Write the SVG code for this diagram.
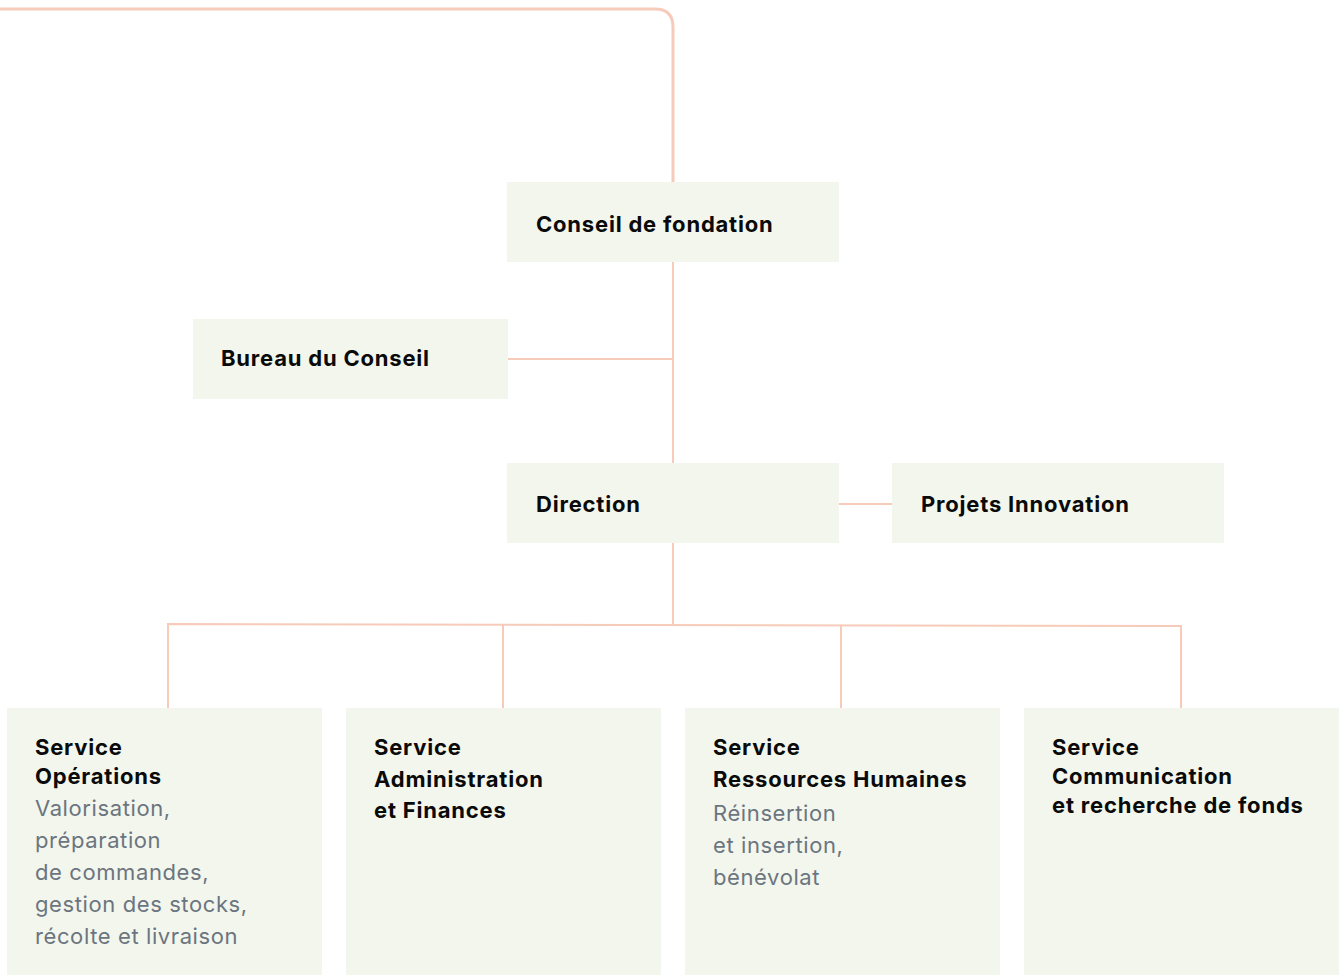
<svg xmlns="http://www.w3.org/2000/svg" width="1341" height="975" viewBox="0 0 1341 975">
<style>
.box{fill:#f3f6ec}
.t{font-family:Inter,"Noto Sans",sans-serif;font-size:22px;font-weight:700;fill:#0a0a0a;letter-spacing:0.8px}
.g{font-family:Inter,"Noto Sans",sans-serif;font-size:22px;font-weight:400;fill:#6b7580;letter-spacing:0.6px}
.c{fill:none;stroke:#f6cbb9;stroke-width:2}
</style>
<rect width="1341" height="975" fill="#ffffff"/>
<g id="connectors">
<path class="c" d="M0 9 H655 Q673 9 673 27 V182" style="stroke-width:3"/>
<path class="c" d="M673 262 V463"/>
<path class="c" d="M508 359 H673"/>
<path class="c" d="M839 504 H892"/>
<path class="c" d="M673 543 V624"/>
<path class="c" d="M168 708 V624 L1181 626 V708"/>
<path class="c" d="M503 624 V708"/>
<path class="c" d="M841 625 V708"/>
</g>
<g id="conseil">
<rect class="box" x="507" y="182" width="332" height="80"/>
<text class="t" x="536" y="232">Conseil de fondation</text>
</g>
<g id="bureau">
<rect class="box" x="193" y="319" width="315" height="80"/>
<text class="t" x="221" y="366">Bureau du Conseil</text>
</g>
<g id="direction">
<rect class="box" x="507" y="463" width="332" height="80"/>
<text class="t" x="536" y="512">Direction</text>
</g>
<g id="projets">
<rect class="box" x="892" y="463" width="332" height="80"/>
<text class="t" x="921" y="512">Projets Innovation</text>
</g>
<g id="operations">
<rect class="box" x="7" y="708" width="315" height="267"/>
<text class="t" x="35" y="755">Service</text>
<text class="t" x="35" y="784">Opérations</text>
<text class="g" x="35" y="816">Valorisation,</text>
<text class="g" x="35" y="848">préparation</text>
<text class="g" x="35" y="880">de commandes,</text>
<text class="g" x="35" y="912">gestion des stocks,</text>
<text class="g" x="35" y="944">récolte et livraison</text>
</g>
<g id="administration">
<rect class="box" x="346" y="708" width="315" height="267"/>
<text class="t" x="374" y="755">Service</text>
<text class="t" x="374" y="787">Administration</text>
<text class="t" x="374" y="818">et Finances</text>
</g>
<g id="rh">
<rect class="box" x="685" y="708" width="315" height="267"/>
<text class="t" x="713" y="755">Service</text>
<text class="t" x="713" y="787">Ressources Humaines</text>
<text class="g" x="713" y="821">Réinsertion</text>
<text class="g" x="713" y="853">et insertion,</text>
<text class="g" x="713" y="885">bénévolat</text>
</g>
<g id="communication">
<rect class="box" x="1024" y="708" width="315" height="267"/>
<text class="t" x="1052" y="755">Service</text>
<text class="t" x="1052" y="784">Communication</text>
<text class="t" x="1052" y="813">et recherche de fonds</text>
</g>
</svg>
